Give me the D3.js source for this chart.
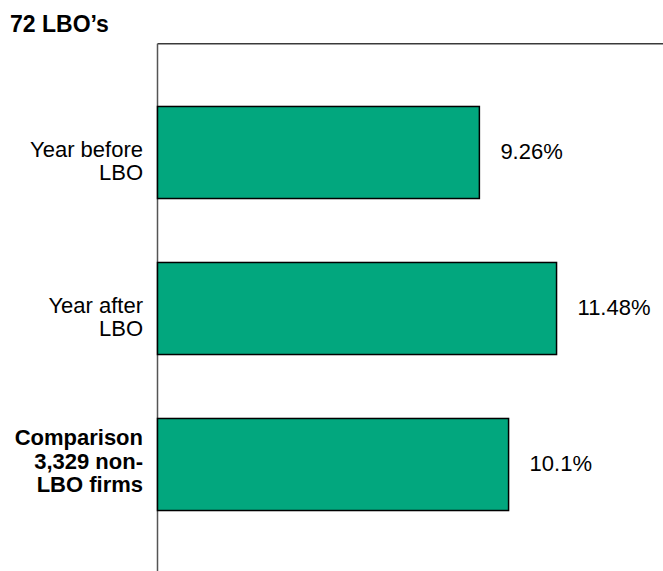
<!DOCTYPE html>
<html>
<head>
<meta charset="utf-8">
<script src="https://cdn.jsdelivr.net/npm/d3@7"></script>
<style>
  body { margin: 0; background: #fff; }
  text { font-family: "Liberation Sans", Arial, sans-serif; }
</style>
</head>
<body>
<svg id="chart" width="663" height="571"></svg>
<script>
// Chart data
const categories = ["Year before|LBO", "Year after|LBO", "Comparison|3,329 non-|LBO firms"];
const values = [9.26, 11.48, 10.1];
const valueLabels = ["9.26%", "11.48%", "10.1%"];
const boldCategory = [false, false, true];
const title = "72 LBO\u2019s";

let svg = d3.select("#chart"),
  width = +svg.attr("width"),
  height = +svg.attr("height");

const plotLeft = 157.5,
  plotTop = 43.7;

// Scales
let x = d3.scaleLinear().domain([0, 14.5]).range([plotLeft, plotLeft + 14.5 * 34.76]);

let y = d3
  .scaleBand()
  .domain(categories)
  .range([74.5, 542.5])
  .paddingInner(0.41)
  .paddingOuter(0.205);

// title
svg
  .append("text")
  .attr("x", 10)
  .attr("y", 32)
  .attr("font-size", 23)
  .attr("font-weight", "bold")
  .text(title);

// frame: top and left lines
svg
  .append("line")
  .attr("x1", plotLeft)
  .attr("x2", width)
  .attr("y1", plotTop)
  .attr("y2", plotTop)
  .attr("stroke", "#3a3a3a")
  .attr("stroke-width", 1.5);

svg
  .append("line")
  .attr("x1", plotLeft)
  .attr("x2", plotLeft)
  .attr("y1", plotTop)
  .attr("y2", height)
  .attr("stroke", "#555")
  .attr("stroke-width", 1.5);

// bars
svg
  .selectAll("rect.bar")
  .data(values)
  .enter()
  .append("rect")
  .attr("class", "bar")
  .attr("x", x(0))
  .attr("y", (d, i) => y(categories[i]))
  .attr("width", (d) => x(d) - x(0))
  .attr("height", y.bandwidth())
  .attr("fill", "#02a77e")
  .attr("stroke", "#000")
  .attr("stroke-width", 1.5);

// value labels
svg
  .selectAll("text.value")
  .data(values)
  .enter()
  .append("text")
  .attr("class", "value")
  .attr("x", (d) => x(d) + 21)
  .attr("y", (d, i) => y(categories[i]) + y.bandwidth() / 2 + 6)
  .attr("font-size", 22)
  .text((d, i) => valueLabels[i]);

// category labels (multi-line, right aligned)
categories.forEach((c, i) => {
  const lines = c.split("|");
  const mid = y(c) + y.bandwidth() / 2;
  const lh = 23.2;
  const first = mid + 4 - ((lines.length - 1) * lh) / 2 + (lines.length === 2 ? 0 : 0);
  const t = svg
    .append("text")
    .attr("text-anchor", "end")
    .attr("font-size", 22)
    .attr("font-weight", boldCategory[i] ? "bold" : "normal");
  lines.forEach((l, j) => {
    t.append("tspan")
      .attr("x", 143)
      .attr("y", (lines.length === 2 ? mid + 4 : first) + (lines.length === 2 ? j * lh : j * lh))
      .text(l);
  });
});
</script>
</body>
</html>
